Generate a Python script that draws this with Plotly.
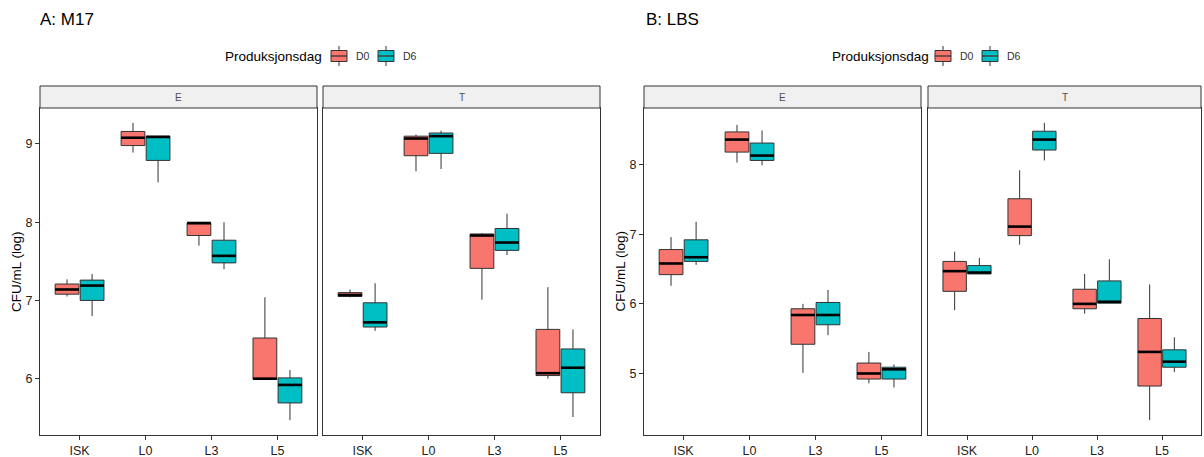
import plotly.graph_objects as go
import numpy as np

categories = ["ISK", "L0", "L3", "L5"]
groups = ["D0", "D6"]
facets = ["E", "T"]
panel_titles = ["A: M17", "B: LBS"]
legend_title = "Produksjonsdag"
y_title = "CFU/mL (log)"

# five-number summaries per category: [lower whisker, Q1, median, Q3, upper whisker]
a_e_d0 = [[7.05, 7.08, 7.14, 7.21, 7.27], [8.89, 8.98, 9.08, 9.16, 9.27],
          [7.70, 7.83, 7.99, 7.99, 8.00], [5.99, 5.99, 6.00, 6.52, 7.04]]
a_e_d6 = [[6.80, 7.00, 7.19, 7.26, 7.34], [8.51, 8.79, 9.09, 9.10, 9.10],
          [7.40, 7.48, 7.57, 7.77, 8.00], [5.47, 5.69, 5.92, 6.01, 6.11]]
a_t_d0 = [[7.04, 7.05, 7.07, 7.10, 7.14], [8.65, 8.85, 9.07, 9.10, 9.12],
          [7.01, 7.41, 7.83, 7.85, 7.86], [6.00, 6.04, 6.07, 6.63, 7.17]]
a_t_d6 = [[6.61, 6.66, 6.72, 6.97, 7.22], [8.68, 8.88, 9.10, 9.14, 9.17],
          [7.58, 7.64, 7.74, 7.92, 8.11], [5.51, 5.82, 6.14, 6.38, 6.63]]
b_e_d0 = [[6.26, 6.42, 6.58, 6.78, 6.96], [8.03, 8.18, 8.36, 8.47, 8.57],
          [5.01, 5.42, 5.84, 5.93, 6.00], [4.86, 4.92, 5.00, 5.15, 5.31]]
b_e_d6 = [[6.56, 6.61, 6.67, 6.92, 7.18], [7.99, 8.06, 8.13, 8.31, 8.49],
          [5.55, 5.70, 5.84, 6.02, 6.20], [4.80, 4.92, 5.06, 5.09, 5.13]]
b_t_d0 = [[5.91, 6.18, 6.47, 6.61, 6.75], [6.85, 6.98, 7.11, 7.51, 7.92],
          [5.86, 5.93, 6.00, 6.21, 6.43], [4.33, 4.82, 5.31, 5.79, 6.28]]
b_t_d6 = [[6.43, 6.43, 6.45, 6.55, 6.66], [8.06, 8.21, 8.36, 8.48, 8.60],
          [6.01, 6.01, 6.03, 6.33, 6.64], [5.02, 5.09, 5.17, 5.34, 5.52]]

colors = {"D0": "#F8766D", "D6": "#00BFC4"}

W, H = 1204, 457
FONT = "Liberation Sans, Arial, sans-serif"

# panel pixel boxes (left, right) and vertical extent
panel_px = [(40, 317), (323, 600), (644, 921), (928, 1201)]
plot_top, plot_bot = 108, 435
strip_top = 86

figures = [
    {"E": {"D0": a_e_d0, "D6": a_e_d6}, "T": {"D0": a_t_d0, "D6": a_t_d6}},
    {"E": {"D0": b_e_d0, "D6": b_e_d6}, "T": {"D0": b_t_d0, "D6": b_t_d6}},
]

fig = go.Figure()
dodge = {"D0": -0.19, "D6": 0.19}
bw = 0.36
ydom = [(H - plot_bot) / H, (H - plot_top) / H]
shapes = []
annotations = []


def px(x):
    return x / W


def py(y):
    return (H - y) / H


for fi, fdata in enumerate(figures):
    allv = [v for fac in fdata.values() for g in fac.values() for row in g for v in row]
    lo, hi = min(allv), max(allv)
    pad = 0.05 * (hi - lo)
    yr = [lo - pad, hi + pad]
    for pi, fac in enumerate(facets):
        idx = fi * 2 + pi + 1
        xa = "x" if idx == 1 else f"x{idx}"
        ya = "y" if idx == 1 else f"y{idx}"
        xl = "xaxis" if idx == 1 else f"xaxis{idx}"
        yl = "yaxis" if idx == 1 else f"yaxis{idx}"
        left, right = panel_px[idx - 1]
        for g in groups:
            stats = np.array(fdata[fac][g])
            pos = np.arange(len(categories)) + dodge[g]
            fig.add_trace(go.Box(
                x=pos, lowerfence=stats[:, 0], q1=stats[:, 1], median=stats[:, 2],
                q3=stats[:, 3], upperfence=stats[:, 4], width=bw,
                fillcolor=colors[g], line=dict(color="#333333", width=1),
                whiskerwidth=0, boxpoints=False, name=g, showlegend=False,
                xaxis=xa, yaxis=ya, hoverinfo="skip"))
            mx, my = [], []
            for p, m in zip(pos, stats[:, 2]):
                mx += [p - bw / 2, p + bw / 2, None]
                my += [m, m, None]
            fig.add_trace(go.Scatter(x=mx, y=my, mode="lines",
                                     line=dict(color="black", width=2.6),
                                     showlegend=False, hoverinfo="skip",
                                     xaxis=xa, yaxis=ya))
        fig.layout[xl] = dict(
            domain=[px(left), px(right)], range=[-0.6, len(categories) - 0.4],
            tickvals=list(range(len(categories))), ticktext=categories,
            showline=True, mirror=True, linecolor="#333333", linewidth=1,
            ticks="outside", ticklen=4, tickcolor="#333333", showgrid=False,
            zeroline=False, anchor=ya,
            tickfont=dict(family=FONT, size=12.5, color="#222222"))
        ycfg = dict(domain=ydom, range=yr, showline=True, mirror=True,
                    linecolor="#333333", linewidth=1, showgrid=False,
                    zeroline=False, anchor=xa, dtick=1)
        if pi == 0:
            ycfg.update(ticks="outside", ticklen=4, tickcolor="#333333",
                        tickfont=dict(family=FONT, size=12.5, color="#222222"),
                        showticklabels=True)
        else:
            ycfg.update(showticklabels=False, ticks="")
        fig.layout[yl] = ycfg
        # facet strip
        shapes.append(dict(type="rect", xref="paper", yref="paper",
                           x0=px(left), x1=px(right),
                           y0=py(plot_top), y1=py(strip_top),
                           fillcolor="#F0F0F0", line=dict(color="#333333", width=1),
                           layer="above"))
        annotations.append(dict(text=fac, xref="paper", yref="paper",
                                x=px((left + right) / 2),
                                y=py((strip_top + plot_top) / 2),
                                showarrow=False, xanchor="center", yanchor="middle",
                                font=dict(family=FONT, size=10, color="#4D4D4D")))
    # panel title
    tx = [38, 644][fi]
    annotations.append(dict(text=panel_titles[fi], xref="paper", yref="paper",
                            x=px(tx), y=py(19), showarrow=False,
                            xanchor="left", yanchor="middle",
                            font=dict(family=FONT, size=17, color="black")))
    # y axis title
    ax_x = [16.5, 620][fi]
    annotations.append(dict(text=y_title, xref="paper", yref="paper",
                            x=px(ax_x), y=py((plot_top + plot_bot) / 2),
                            showarrow=False, textangle=-90,
                            xanchor="center", yanchor="middle",
                            font=dict(family=FONT, size=13.5, color="black")))

    # legend (drawn by hand to match ggplot key layout)
    leg_x = [223, 830][fi]
    key_x = {"D0": [331, 935][fi], "D6": [378, 982][fi]}
    leg_y = 56
    annotations.append(dict(text=legend_title, xref="paper", yref="paper",
                            x=px(leg_x), y=py(leg_y), showarrow=False,
                            xanchor="left", yanchor="middle",
                            font=dict(family=FONT, size=13.5, color="black")))
    for g in groups:
        kx = key_x[g]
        kw = 16
        shapes.append(dict(type="line", xref="paper", yref="paper",
                           x0=px(kx + kw / 2), x1=px(kx + kw / 2),
                           y0=py(leg_y - 10), y1=py(leg_y + 10),
                           line=dict(color="#333333", width=1)))
        shapes.append(dict(type="rect", xref="paper", yref="paper",
                           x0=px(kx), x1=px(kx + kw),
                           y0=py(leg_y - 5.5), y1=py(leg_y + 5.5),
                           fillcolor=colors[g], line=dict(color="#333333", width=1)))
        shapes.append(dict(type="line", xref="paper", yref="paper",
                           x0=px(kx), x1=px(kx + kw),
                           y0=py(leg_y), y1=py(leg_y),
                           line=dict(color="#333333", width=1.3)))
        annotations.append(dict(text=g, xref="paper", yref="paper",
                                x=px(kx + kw + 7), y=py(leg_y), showarrow=False,
                                xanchor="left", yanchor="middle",
                                font=dict(family=FONT, size=10.5, color="#333333")))

fig.update_layout(
    width=W, height=H, autosize=False,
    margin=dict(l=0, r=0, t=0, b=0),
    paper_bgcolor="white", plot_bgcolor="white",
    shapes=shapes, annotations=annotations,
    showlegend=False,
    font=dict(family=FONT),
)

fig.write_html("out.html", config={"displayModeBar": False},
               post_script="document.body.style.margin='0';document.body.style.overflow='hidden';")
